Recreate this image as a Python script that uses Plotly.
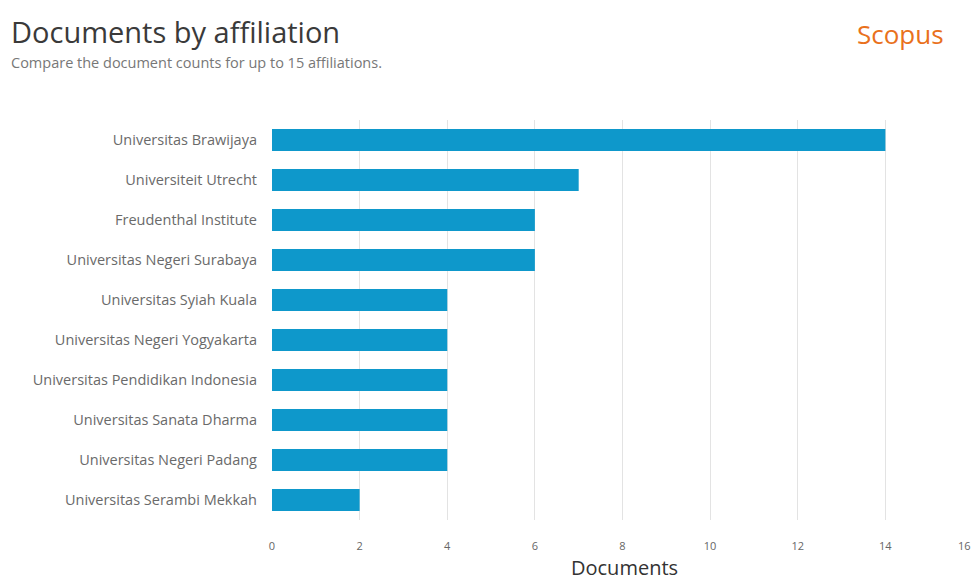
import plotly.graph_objects as go

affiliations = [
    "Universitas Brawijaya",
    "Universiteit Utrecht",
    "Freudenthal Institute",
    "Universitas Negeri Surabaya",
    "Universitas Syiah Kuala",
    "Universitas Negeri Yogyakarta",
    "Universitas Pendidikan Indonesia",
    "Universitas Sanata Dharma",
    "Universitas Negeri Padang",
    "Universitas Serambi Mekkah",
]
documents = [14, 7, 6, 6, 4, 4, 4, 4, 4, 2]
x_ticks = [0, 2, 4, 6, 8, 10, 12, 14, 16]

L, R, T, B = 272, 0, 120, 60
W, H = 973, 580
PW, PH = W - L - R, H - T - B

def px(xp):
    return (xp - L) / PW

def py(yp):
    return (H - B - yp) / PH

fig = go.Figure(go.Bar(
    x=documents,
    y=affiliations,
    orientation="h",
    marker=dict(color="#0e98cb", line=dict(width=0)),
    width=0.55,
))

fig.update_layout(
    width=W, height=H,
    margin=dict(l=L, r=R, t=T, b=B, autoexpand=False),
    paper_bgcolor="white", plot_bgcolor="white",
    font=dict(family="Open Sans", color="#555"),
    showlegend=False,
)
# last tick label is drawn separately (right-aligned) so it stays inside the page
tick_text = [str(v) for v in x_ticks[:-1]] + [""]
fig.update_xaxes(
    range=[x_ticks[0], x_ticks[-1]], tickvals=x_ticks, ticktext=tick_text,
    showgrid=True, gridcolor="#e3e3e3", gridwidth=1, zeroline=False,
    tickfont=dict(size=11, color="#666"), automargin=False,
    ticks="", ticklabelstandoff=18,
)
fig.update_yaxes(
    autorange="reversed", showgrid=False, zeroline=False, automargin=False,
    tickfont=dict(size=14.5, color="#6a6a6a"), ticks="", ticklabelstandoff=14,
)
fig.add_annotation(text=str(x_ticks[-1]), xref="x", yref="paper",
                   x=x_ticks[-1], y=py(545), xanchor="right", yanchor="middle",
                   font=dict(size=11, color="#666"), showarrow=False)

fig.add_annotation(text="Documents by affiliation", xref="paper", yref="paper",
                   x=px(9), y=py(31), xanchor="left", yanchor="middle",
                   font=dict(size=29, color="#3a3a3a"), showarrow=False)
fig.add_annotation(text="Compare the document counts for up to 15 affiliations.",
                   xref="paper", yref="paper",
                   x=px(9), y=py(63), xanchor="left", yanchor="middle",
                   font=dict(size=14.5, color="#777"), showarrow=False)
fig.add_annotation(text="Scopus", xref="paper", yref="paper",
                   x=px(946), y=py(34), xanchor="right", yanchor="middle",
                   font=dict(size=26, color="#e9711c"), showarrow=False)
fig.add_annotation(text="Documents", xref="paper", yref="paper",
                   x=px(624), y=py(567), xanchor="center", yanchor="middle",
                   font=dict(size=20, color="#333"), showarrow=False)

fig.write_html("out.html")
